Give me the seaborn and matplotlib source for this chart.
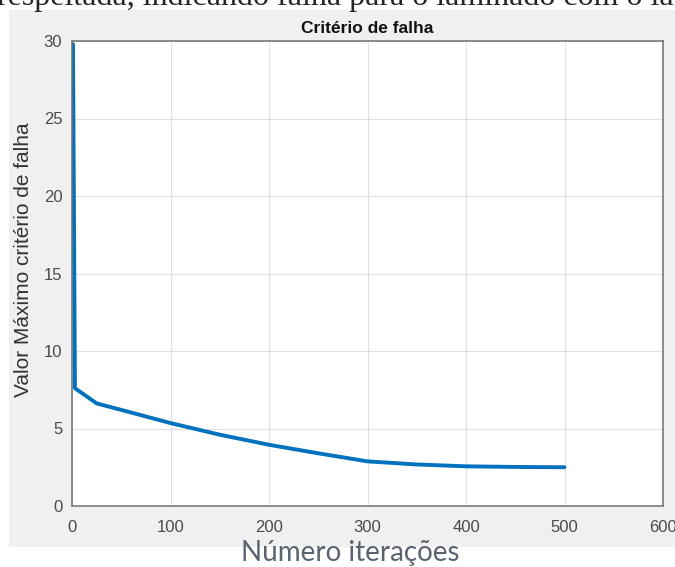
import pandas as pd
import seaborn as sns
import matplotlib.pyplot as plt
from matplotlib.patches import Rectangle

# values
iteracoes = [1, 3, 25, 50, 100, 150, 200, 250, 300, 350, 400, 450, 500]
valor_max = [29.8, 7.6, 6.62, 6.2, 5.35, 4.6, 3.95, 3.4, 2.88, 2.68, 2.56, 2.52, 2.5]
x_ticks = [0, 100, 200, 300, 400, 500, 600]
y_ticks = [0, 5, 10, 15, 20, 25, 30]

df = pd.DataFrame({'Iteracao': iteracoes, 'Valor': valor_max})

sns.set_style('whitegrid')
plt.rcParams['font.family'] = ['Liberation Sans', 'DejaVu Sans']

W, H = 675, 567
fig = plt.figure(figsize=(W / 100, H / 100), dpi=100)
fig.patch.set_facecolor('white')

# gray figure panel (screenshot look), kept behind the axes
fig.patches.append(Rectangle((9 / W, 20 / H), 1, 537 / H, transform=fig.transFigure,
                             facecolor='#f0f0f0', edgecolor='none', zorder=-10))

ax = fig.add_axes([72 / W, 61 / H, 591 / W, 465 / H])
ax.set_zorder(1)
ax.set_facecolor('white')

sns.lineplot(data=df, x='Iteracao', y='Valor', ax=ax, color='#0072BD',
             linewidth=2.8, estimator=None)

ax.set_xlim(0, 600)
ax.set_ylim(0, 30)
ax.set_xticks(x_ticks)
ax.set_yticks(y_ticks)
ax.grid(True, color='#e0e0e0', linewidth=0.8)
for s in ax.spines.values():
    s.set_color('#707070')
    s.set_linewidth(1.1)
    s.set_visible(True)
ax.tick_params(direction='in', length=4, width=0.9, color='#707070',
               labelcolor='#4a4a4a', labelsize=12)
ax.tick_params(axis='x', pad=10)
ax.tick_params(axis='y', pad=7)

ax.set_title('Critério de falha', fontweight='bold', fontsize=12.5, pad=6, color='#111111')
ax.set_xlabel('')
ax.set_ylabel('Valor Máximo critério de falha', fontsize=15, color='#333333')
ax.yaxis.set_label_coords((33 - 72) / 591, 0.53)

# caption below the figure panel and cut document text at the top
fig.text(350 / W, 1 - 553 / H, 'Número iterações', family=['Lato', 'DejaVu Sans'],
         color='#5a6370', fontsize=20, ha='center', va='center')
fig.text(-0.004, 1 - 5 / H, 'respeitada, indicando falha para o laminado com o la',
         family=['Liberation Serif', 'DejaVu Serif'], fontsize=23, ha='left', va='baseline')

fig.savefig('out.png', dpi=100)
